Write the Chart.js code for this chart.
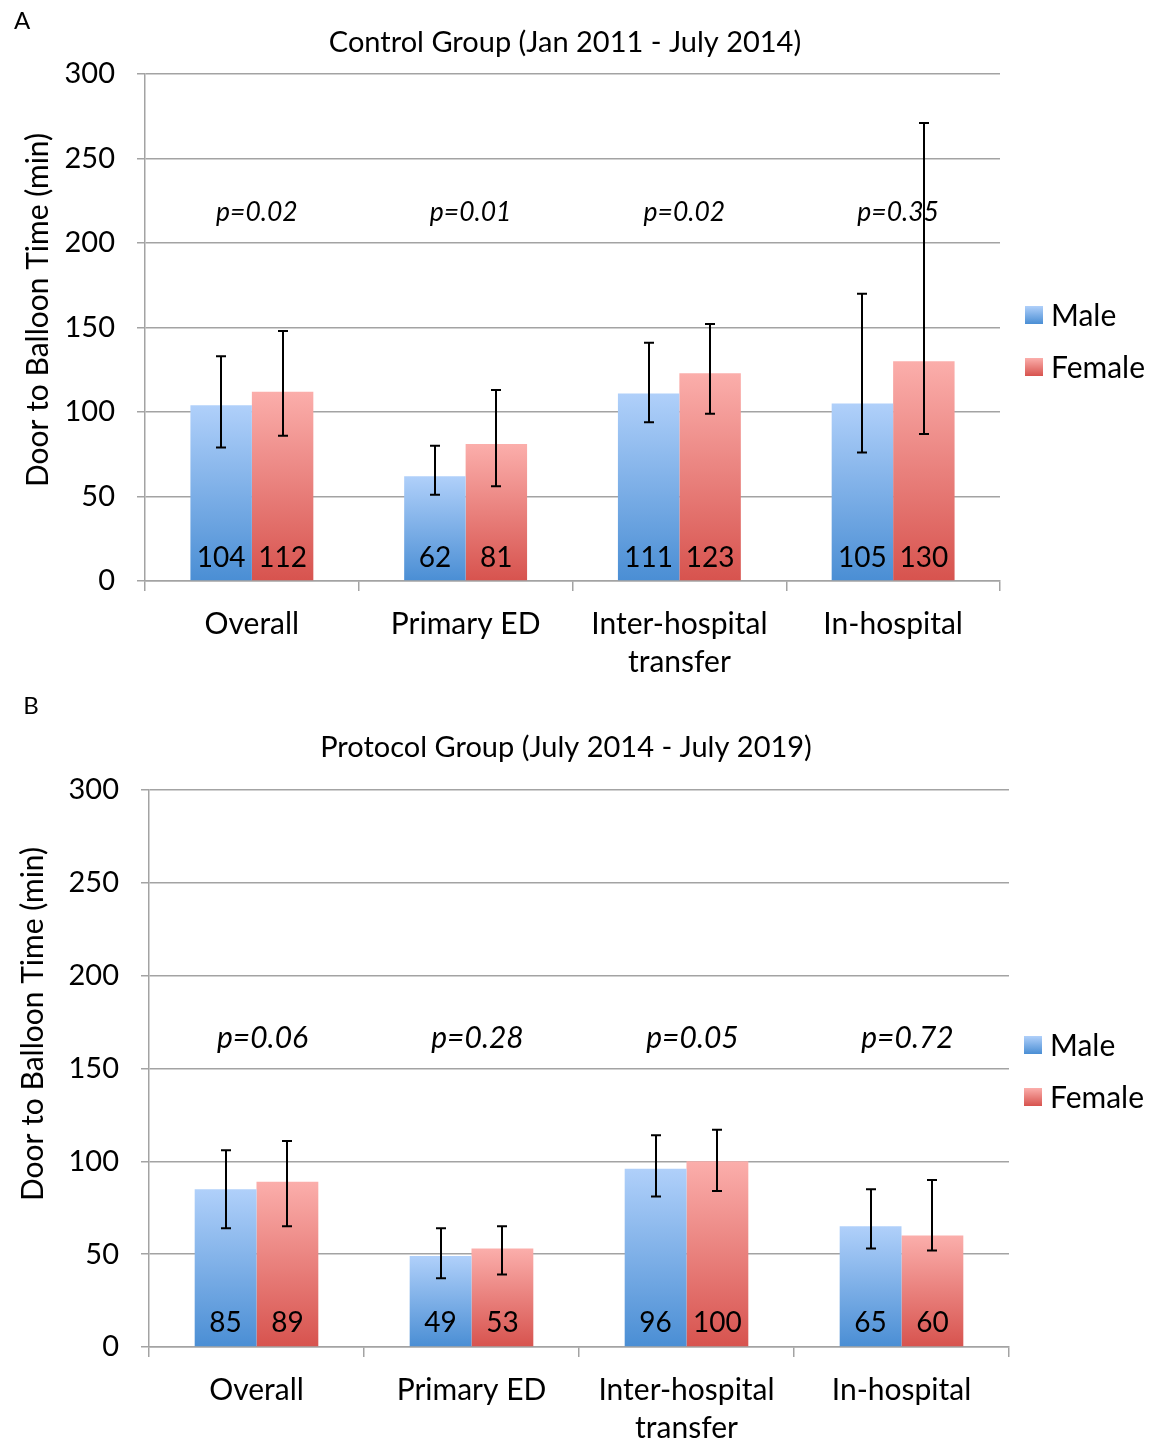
<!DOCTYPE html>
<html>
<head>
<meta charset="utf-8">
<script src="https://cdn.jsdelivr.net/npm/chart.js@4.4.1/dist/chart.umd.min.js"></script>
<style>
  html, body { margin: 0; padding: 0; background: #ffffff; }
  canvas { display: block; }
</style>
</head>
<body>
<canvas id="chartA" width="1151" height="690"></canvas>
<canvas id="chartB" width="1151" height="754"></canvas>
<script>
// ---------- DATA ----------
const categories = ['Overall', 'Primary ED', ['Inter-hospital', 'transfer'], 'In-hospital'];
const seriesNames = ['Male', 'Female'];
const yTickValues = [0, 50, 100, 150, 200, 250, 300];

// Panel A: Control Group
const controlMale = [104, 62, 111, 105];
const controlFemale = [112, 81, 123, 130];
const controlMaleLow = [79, 51, 94, 76];
const controlMaleHigh = [133, 80, 141, 170];
const controlFemaleLow = [86, 56, 99, 87];
const controlFemaleHigh = [148, 113, 152, 271];
const controlPValues = ['p=0.02', 'p=0.01', 'p=0.02', 'p=0.35'];

// Panel B: Protocol Group
const protocolMale = [85, 49, 96, 65];
const protocolFemale = [89, 53, 100, 60];
const protocolMaleLow = [64, 37, 81, 53];
const protocolMaleHigh = [106, 64, 114, 85];
const protocolFemaleLow = [65, 39, 84, 52];
const protocolFemaleHigh = [111, 65, 117, 90];
const protocolPValues = ['p=0.06', 'p=0.28', 'p=0.05', 'p=0.72'];

// ---------- STYLE ----------
const FONT = 'Lato, "Open Sans", sans-serif';
const COLORS = {
  Male: { top: '#b0d0fa', bottom: '#4a8ed4' },
  Female: { top: '#fbaeab', bottom: '#d7534e' }
};
const GRID = '#a3a3a3';

function gradientFill(c, top, bottom) {
  const chart = c.chart;
  const ys = chart.scales && chart.scales.y;
  if (!ys || c.type !== 'data') return bottom;
  const yTop = ys.getPixelForValue(c.raw);
  const yBot = ys.getPixelForValue(0);
  if (!isFinite(yTop) || !isFinite(yBot) || yTop === yBot) return bottom;
  const g = chart.ctx.createLinearGradient(0, yTop, 0, yBot);
  g.addColorStop(0, top);
  g.addColorStop(1, bottom);
  return g;
}

const decorPlugin = {
  id: 'decor',
  afterDatasetsDraw(chart, args, o) {
    const ctx = chart.ctx;
    const ys = chart.scales.y, xs = chart.scales.x;
    ctx.save();
    // value labels
    ctx.fillStyle = '#000';
    ctx.font = '28px ' + FONT;
    ctx.textAlign = 'center';
    ctx.textBaseline = 'middle';
    chart.data.datasets.forEach((ds, di) => {
      const meta = chart.getDatasetMeta(di);
      meta.data.forEach((el, i) => {
        ctx.fillText(String(ds.data[i]), el.x, el.base - o.valueOffset);
      });
    });
    // error bars
    ctx.strokeStyle = '#000';
    ctx.lineWidth = 2;
    chart.data.datasets.forEach((ds, di) => {
      const meta = chart.getDatasetMeta(di);
      meta.data.forEach((el, i) => {
        const y1 = ys.getPixelForValue(ds.errLow[i]);
        const y2 = ys.getPixelForValue(ds.errHigh[i]);
        const x = Math.round(el.x);
        ctx.beginPath();
        ctx.moveTo(x, y1); ctx.lineTo(x, y2);
        ctx.moveTo(x - 5, y1); ctx.lineTo(x + 5, y1);
        ctx.moveTo(x - 5, y2); ctx.lineTo(x + 5, y2);
        ctx.stroke();
      });
    });
    // p-values
    ctx.font = 'italic ' + o.pSize + 'px ' + FONT;
    ctx.fillStyle = '#000';
    o.pValues.forEach((t, i) => {
      ctx.fillText(t, xs.getPixelForValue(i) + o.pShift, ys.getPixelForValue(o.pLevel));
    });
    ctx.restore();
  },
  afterDraw(chart, args, o) {
    const ctx = chart.ctx;
    ctx.save();
    ctx.fillStyle = '#000';
    // panel letter
    ctx.font = '24px ' + FONT;
    ctx.textAlign = 'center';
    ctx.textBaseline = 'middle';
    ctx.fillText(o.letter, o.letterX, o.letterY);
    // title
    ctx.font = '29px ' + FONT;
    ctx.fillText(o.title, o.titleX, o.titleY);
    // y axis title
    ctx.save();
    ctx.translate(o.yTitleX, o.yTitleY);
    ctx.rotate(-Math.PI / 2);
    ctx.font = '30px ' + FONT;
    ctx.fillText('Door to Balloon Time (min)', 0, 0);
    ctx.restore();
    // legend
    ctx.font = '30px ' + FONT;
    ctx.textAlign = 'left';
    seriesNames.forEach((name, i) => {
      const y = o.legendY + i * 52;
      const g = ctx.createLinearGradient(0, y - 9, 0, y + 9);
      g.addColorStop(0, COLORS[name].top);
      g.addColorStop(1, COLORS[name].bottom);
      ctx.fillStyle = g;
      ctx.fillRect(o.legendX, y - 9, 18, 18);
      ctx.fillStyle = '#000';
      ctx.fillText(name, o.legendX + 26, y + 1);
    });
    ctx.restore();
  }
};

function makeChart(id, p) {
  const canvas = document.getElementById(id);
  return new Chart(canvas, {
    type: 'bar',
    data: {
      labels: categories,
      datasets: [
        {
          label: 'Male', data: p.male, errLow: p.maleLow, errHigh: p.maleHigh,
          backgroundColor: (c) => gradientFill(c, COLORS.Male.top, COLORS.Male.bottom),
          borderWidth: 0
        },
        {
          label: 'Female', data: p.female, errLow: p.femaleLow, errHigh: p.femaleHigh,
          backgroundColor: (c) => gradientFill(c, COLORS.Female.top, COLORS.Female.bottom),
          borderWidth: 0
        }
      ]
    },
    plugins: [decorPlugin],
    options: {
      responsive: false,
      animation: false,
      devicePixelRatio: 1,
      layout: { padding: { left: 0, right: p.padRight, top: p.padTop, bottom: 0 } },
      datasets: { bar: { categoryPercentage: 0.575, barPercentage: 1.0 } },
      plugins: {
        legend: { display: false },
        title: { display: false },
        tooltip: { enabled: false },
        decor: p.decor
      },
      scales: {
        x: {
          offset: true,
          grid: { offset: true, drawOnChartArea: false, drawTicks: true, tickLength: 10, color: GRID, lineWidth: 1.5 },
          border: { display: true, color: GRID, width: 1.5 },
          ticks: { color: '#000', font: { family: FONT, size: 30, lineHeight: 1.25 }, padding: p.xPad, maxRotation: 0, autoSkip: false },
          afterFit: (s) => { s.height = p.xHeight; }
        },
        y: {
          min: 0, max: 300,
          afterBuildTicks: (s) => { s.ticks = yTickValues.map(v => ({ value: v })); },
          grid: { color: GRID, lineWidth: 1.5, drawTicks: true, tickLength: 8 },
          border: { display: true, color: GRID, width: 1.5 },
          ticks: { color: '#000', font: { family: FONT, size: 29 }, padding: 22 },
          afterFit: (s) => { s.width = p.yWidth; }
        }
      }
    }
  });
}

makeChart('chartA', {
  male: controlMale, female: controlFemale,
  maleLow: controlMaleLow, maleHigh: controlMaleHigh,
  femaleLow: controlFemaleLow, femaleHigh: controlFemaleHigh,
  padRight: 151, padTop: 74, xHeight: 109, yWidth: 145, xPad: 15,
  decor: {
    letter: 'A', letterX: 22, letterY: 21,
    title: 'Control Group (Jan 2011 - July 2014)', titleX: 565, titleY: 43,
    yTitleX: 38, yTitleY: 310,
    legendX: 1025, legendY: 315,
    pValues: controlPValues, pLevel: 218, pShift: 5, pSize: 26.5, valueOffset: 22
  }
});

makeChart('chartB', {
  male: protocolMale, female: protocolFemale,
  maleLow: protocolMaleLow, maleHigh: protocolMaleHigh,
  femaleLow: protocolFemaleLow, femaleHigh: protocolFemaleHigh,
  padRight: 142, padTop: 100, xHeight: 97, yWidth: 149, xPad: 15,
  decor: {
    letter: 'B', letterX: 31, letterY: 16,
    title: 'Protocol Group (July 2014 - July 2019)', titleX: 566, titleY: 58,
    yTitleX: 33, yTitleY: 334,
    legendX: 1024, legendY: 355,
    pValues: protocolPValues, pLevel: 166, pShift: 6, pSize: 30, valueOffset: 23
  }
});
</script>
</body>
</html>
